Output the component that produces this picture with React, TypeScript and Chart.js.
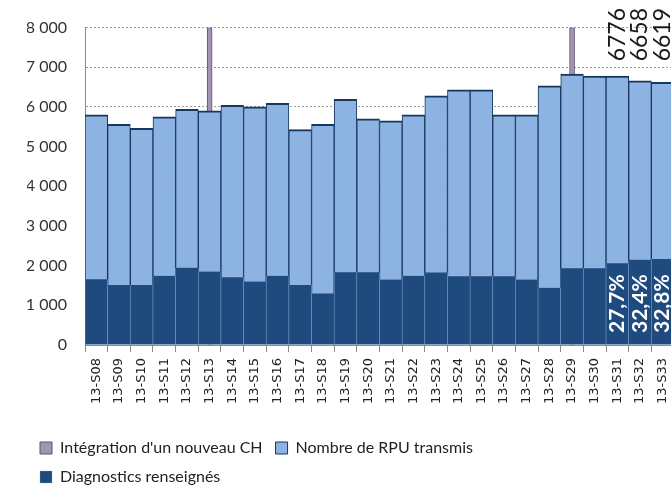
import React, { useEffect, useRef } from 'react';
import { Chart, registerables } from 'chart.js';

Chart.register(...registerables);

const weeks = [
  '13-S08', '13-S09', '13-S10', '13-S11', '13-S12', '13-S13', '13-S14', '13-S15', '13-S16',
  '13-S17', '13-S18', '13-S19', '13-S20', '13-S21', '13-S22', '13-S23', '13-S24', '13-S25',
  '13-S26', '13-S27', '13-S28', '13-S29', '13-S30', '13-S31', '13-S32', '13-S33',
];

const rpuTransmis = [
  5800, 5560, 5460, 5750, 5940, 5900, 6040, 6000, 6090,
  5430, 5560, 6190, 5700, 5650, 5800, 6280, 6430, 6430,
  5800, 5800, 6530, 6830, 6780, 6776, 6658, 6619,
];

const diagnostics = [
  1660, 1510, 1510, 1745, 1950, 1850, 1710, 1600, 1745,
  1510, 1300, 1835, 1835, 1650, 1745, 1830, 1730, 1730,
  1730, 1650, 1440, 1935, 1935, 2060, 2150, 2170,
];

const integrationCH = [
  null, null, null, null, null, 8000, null, null, null,
  null, null, null, null, null, null, null, null, null,
  null, null, null, 8000, null, null, null, null,
];

const labelWeeks = ['13-S31', '13-S32', '13-S33'];
const valueLabels = ['6776', '6658', '6619'];
const pctLabels = ['27,7%', '32,4%', '32,8%'];

const annotatePlugin = {
  id: 'annotate',
  afterDatasetsDraw(chart: any) {
    const { ctx, scales } = chart;
    const x = scales.x;
    const y = scales.y;
    labelWeeks.forEach((w, i) => {
      const cx = x.getPixelForValue(weeks.indexOf(w));
      ctx.save();
      ctx.translate(cx, y.getPixelForValue(7150));
      ctx.rotate(-Math.PI / 2);
      ctx.font = '23px Lato, sans-serif';
      ctx.fillStyle = '#1a1a1a';
      ctx.textAlign = 'left';
      ctx.textBaseline = 'middle';
      ctx.fillText(valueLabels[i], 0, 0);
      ctx.restore();

      ctx.save();
      ctx.translate(cx, y.getPixelForValue(0) - 12);
      ctx.rotate(-Math.PI / 2);
      ctx.font = 'bold 21px Lato, sans-serif';
      ctx.fillStyle = '#ffffff';
      ctx.textAlign = 'left';
      ctx.textBaseline = 'middle';
      ctx.fillText(pctLabels[i], 0, 0);
      ctx.restore();
    });
  },
};

const fmt = (v: number) => String(v).replace(/\B(?=(\d{3})+(?!\d))/g, ' ');

export default function App() {
  const ref = useRef<HTMLCanvasElement>(null);

  useEffect(() => {
    if (!ref.current) return;
    const chart = new Chart(ref.current, {
      type: 'bar',
      data: {
        labels: weeks,
        datasets: [
          {
            label: "Intégration d'un nouveau CH",
            data: integrationCH as any,
            backgroundColor: '#A295B3',
            borderColor: '#5F5070',
            borderWidth: 1,
            barThickness: 5,
            grouped: false,
            order: 3,
          },
          {
            label: 'Nombre de RPU transmis',
            data: rpuTransmis,
            backgroundColor: '#8DB3E2',
            borderColor: '#17375E',
            borderWidth: { top: 2, left: 1, right: 1, bottom: 0 },
            categoryPercentage: 1,
            barPercentage: 1,
            grouped: false,
            order: 2,
          },
          {
            label: 'Diagnostics renseignés',
            data: diagnostics,
            backgroundColor: '#1F4A7E',
            borderColor: '#7FA3D2',
            borderWidth: { top: 0, left: 0.6, right: 0.6, bottom: 0 },
            categoryPercentage: 1,
            barPercentage: 1,
            grouped: false,
            order: 1,
          },
        ],
      },
      options: {
        responsive: false,
        animation: false,
        devicePixelRatio: 1,
        layout: { padding: { top: 22, left: 27, right: 30, bottom: 0 } },
        plugins: {
          tooltip: { enabled: false },
          legend: {
            position: 'bottom',
            align: 'start',
            labels: {
              boxWidth: 12,
              boxHeight: 12,
              padding: 13,
              color: '#222',
              font: { family: 'Lato, sans-serif', size: 16 },
              sort: (a: any, b: any) => a.datasetIndex - b.datasetIndex,
            },
          },
        },
        scales: {
          x: {
            afterFit: (s: any) => { s.height = 82; },
            grid: {
              display: true,
              drawOnChartArea: false,
              drawTicks: true,
              tickLength: 7,
              offset: true,
              color: '#8a8a8a',
            },
            border: { display: true, color: '#8a8a8a' },
            ticks: {
              autoSkip: false,
              minRotation: 90,
              maxRotation: 90,
              padding: 6,
              color: '#222',
              font: { family: '"DejaVu Sans", sans-serif', size: 13 },
            },
          },
          y: {
            min: 0,
            max: 8000,
            afterFit: (s: any) => { s.width = 58; },
            grid: {
              color: '#9a9a9a',
              lineWidth: 1,
              drawTicks: false,
            },
            border: { display: true, color: '#8a8a8a', dash: [2, 2] },
            ticks: {
              stepSize: 1000,
              padding: 18,
              color: '#333',
              font: { family: 'Lato, sans-serif', size: 16 },
              callback: (v: any) => fmt(Number(v)),
            },
          },
        },
      },
      plugins: [annotatePlugin],
    } as any);
    return () => chart.destroy();
  }, []);

  return (
    <div style={{ position: 'absolute', left: 0, top: 0, width: 671, height: 490, overflow: 'hidden', background: '#fff' }}>
      <canvas ref={ref} width={704} height={495} style={{ display: 'block' }} />
    </div>
  );
}
